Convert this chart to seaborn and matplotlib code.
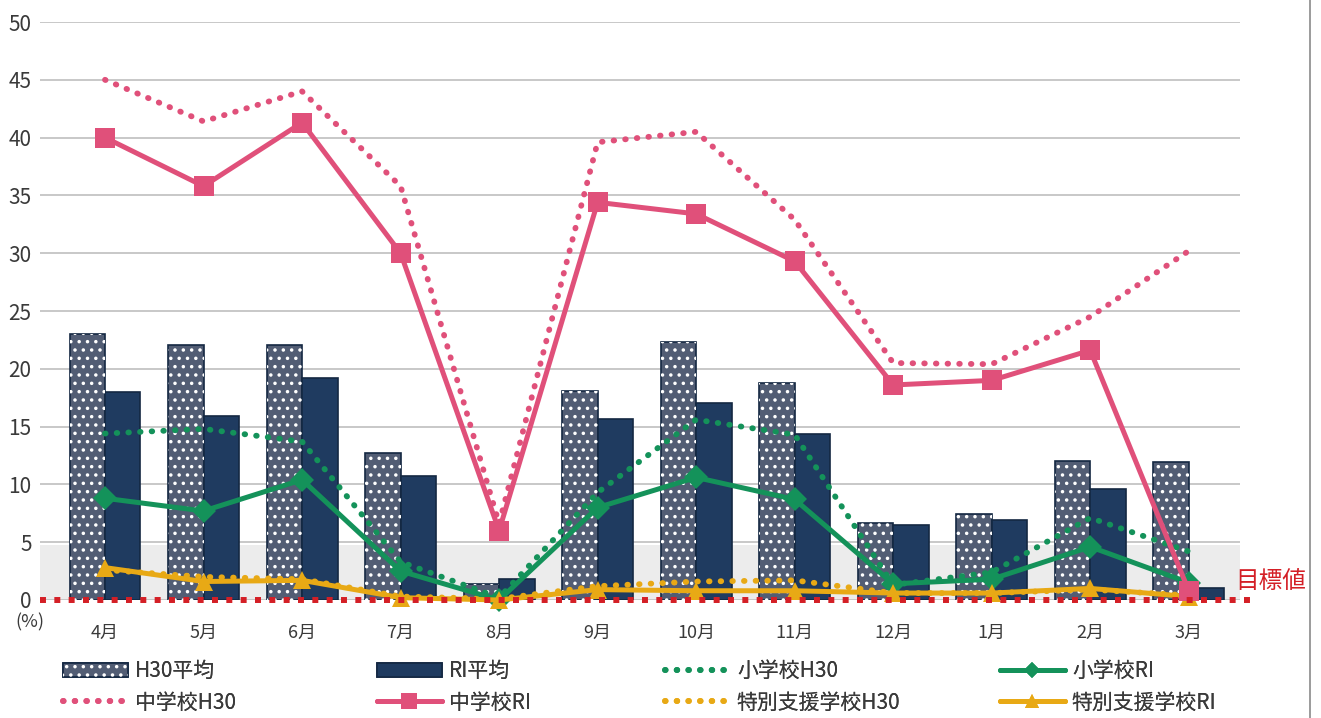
import numpy as np
import pandas as pd
import matplotlib
matplotlib.use("Agg")
import matplotlib.pyplot as plt
import seaborn as sns
from matplotlib.patches import Patch, Rectangle
from matplotlib.lines import Line2D

# ---- data (percent) ----
months = ["4月", "5月", "6月", "7月", "8月", "9月", "10月", "11月", "12月", "1月", "2月", "3月"]
h30_avg = [23.0, 22.1, 22.1, 12.7, 1.4, 18.1, 22.3, 18.8, 6.7, 7.4, 12.0, 11.9]
r1_avg = [18.0, 15.9, 19.2, 10.7, 1.8, 15.7, 17.0, 14.4, 6.5, 6.9, 9.6, 1.0]
elem_h30 = [14.4, 14.8, 13.7, 3.3, 0.2, 9.3, 15.6, 14.3, 1.3, 2.4, 7.1, 4.2]
elem_r1 = [8.8, 7.7, 10.4, 2.5, 0.0, 8.0, 10.6, 8.7, 1.4, 1.8, 4.6, 1.5]
jhs_h30 = [45.0, 41.4, 44.0, 35.8, 6.6, 39.6, 40.5, 32.9, 20.5, 20.4, 24.5, 30.2]
jhs_r1 = [40.0, 35.8, 41.3, 30.0, 6.0, 34.4, 33.4, 29.3, 18.6, 19.0, 21.6, 0.8]
sp_h30 = [2.6, 2.0, 1.8, 0.3, 0.1, 1.2, 1.6, 1.7, 0.6, 0.6, 0.9, 0.4]
sp_r1 = [2.8, 1.6, 1.7, 0.2, 0.0, 0.9, 0.8, 0.8, 0.6, 0.6, 1.0, 0.3]
target = 0.0

bar_labels = ["H30平均", "RI平均"]
line_labels = ["小学校H30", "小学校RI", "中学校H30", "中学校RI", "特別支援学校H30", "特別支援学校RI"]
y_ticks = [0, 5, 10, 15, 20, 25, 30, 35, 40, 45, 50]

# ---- style ----
sns.set_style("white")
plt.rcParams["font.family"] = ["Noto Sans CJK JP", "DejaVu Sans"]
plt.rcParams["hatch.linewidth"] = 1.3

NAVY = "#1f3b60"
NAVY_EDGE = "#142842"
H30_FACE = "#525d74"
PINK = "#e0507a"
GREEN = "#14925a"
ORANGE = "#e8a915"
RED = "#d41f26"
TXT = "#3a3a3a"

fig = plt.figure(figsize=(13.21, 7.18), dpi=100)
W, H = 1321, 718
ax = fig.add_axes([40 / W, 1 - 600 / H, 1200 / W, 578 / H])

# light band near the target level
ax.axhspan(0, 4.8, color="#ececec", zorder=0, lw=0)

# ---- bars ----
bar_df = pd.DataFrame({
    "month": months * 2,
    "value": h30_avg + r1_avg,
    "series": [bar_labels[0]] * 12 + [bar_labels[1]] * 12,
})
sns.barplot(data=bar_df, x="month", y="value", hue="series", order=months,
            hue_order=bar_labels, palette=[H30_FACE, NAVY], width=0.72,
            dodge=True, legend=False, ax=ax, zorder=2, saturation=1)

for p in ax.containers[0]:
    p.set_edgecolor(NAVY_EDGE)
    p.set_linewidth(1.2)
    ax.add_patch(Rectangle(p.get_xy(), p.get_width(), p.get_height(),
                           facecolor="none", edgecolor="white", hatch="..",
                           lw=0, zorder=2.1))
for p in ax.containers[1]:
    p.set_edgecolor(NAVY_EDGE)
    p.set_linewidth(1.2)

# ---- lines ----
x = np.arange(len(months))
dot_style = dict(linestyle=(0, (0.1, 1.9)), dash_capstyle="round", lw=4.2, clip_on=False)

sns.lineplot(x=x, y=elem_h30, color=GREEN, ax=ax, zorder=4, **dot_style)
sns.lineplot(x=x, y=sp_h30, color=ORANGE, ax=ax, zorder=4, **dot_style)
sns.lineplot(x=x, y=jhs_h30, color=PINK, ax=ax, zorder=4, **dot_style)

sns.lineplot(x=x, y=elem_r1, color=GREEN, lw=3.6, marker="D", markersize=12,
             markeredgewidth=0, ax=ax, zorder=5, clip_on=False)
sns.lineplot(x=x, y=sp_r1, color=ORANGE, lw=3.6, marker="^", markersize=13,
             markeredgewidth=0, ax=ax, zorder=5, clip_on=False)
sns.lineplot(x=x, y=jhs_r1, color=PINK, lw=3.6, marker="s", markersize=15,
             markeredgewidth=0, ax=ax, zorder=6, clip_on=False)

# ---- target line ----
ax.plot([-0.66, 11.64], [target, target], color=RED, lw=4.3,
        linestyle=(0, (1, 1.4)), zorder=7, clip_on=False)
ax.text(11.47, 1.6, "目標値", color=RED, fontsize=17, va="center", ha="left",
        clip_on=False, zorder=8)

# ---- axes ----
ax.set_xlim(-0.66, 11.52)
ax.set_ylim(0, 50)
ax.set_yticks(y_ticks)
ax.set_yticklabels([str(t) for t in y_ticks], fontsize=15, color=TXT)
ax.set_xticks(x)
ax.set_xticklabels(months, fontsize=13, color=TXT)
ax.tick_params(axis="x", length=0, pad=17)
ax.tick_params(axis="y", length=0, pad=6)
ax.set_xlabel("")
ax.set_ylabel("")
ax.grid(axis="y", color="#c4c4c4", lw=1.3, zorder=0)
ax.set_axisbelow(True)
for s in ax.spines.values():
    s.set_visible(False)

fig.text(30 / W, 1 - 622 / H, "(%)", fontsize=13, color=TXT, ha="center", va="center")

# right frame edge
fig.add_artist(Line2D([1310 / W, 1310 / W], [0, 1], color="#8a8a8a", lw=1.2))

# ---- legend (four columns) ----
h30_handle = (Patch(facecolor=H30_FACE, edgecolor=NAVY_EDGE, lw=1.2),
              Patch(facecolor="none", edgecolor="white", hatch="..", lw=0))
r1_handle = Patch(facecolor=NAVY, edgecolor=NAVY_EDGE, lw=1.2)

def dotted(c):
    return Line2D([], [], color=c, lw=4.2, linestyle=(0, (0.1, 1.9)), dash_capstyle="round")

def solid(c, m, ms):
    return Line2D([], [], color=c, lw=3.6, marker=m, markersize=ms, markeredgewidth=0)

columns = [
    (63, [h30_handle, dotted(PINK)], [bar_labels[0], line_labels[2]]),
    (377, [r1_handle, solid(PINK, "s", 11)], [bar_labels[1], line_labels[3]]),
    (665, [dotted(GREEN), dotted(ORANGE)], [line_labels[0], line_labels[4]]),
    (1000, [solid(GREEN, "D", 8), solid(ORANGE, "^", 10)], [line_labels[1], line_labels[5]]),
]
for xpix, handles, labels in columns:
    leg = fig.legend(handles, labels, loc="center left",
                     bbox_to_anchor=(xpix / W, 1 - 687 / H),
                     frameon=False, fontsize=15, handlelength=3.1,
                     handletextpad=0.35, labelspacing=0.45, borderpad=0,
                     borderaxespad=0, handleheight=0.7)
    for t in leg.get_texts():
        t.set_color(TXT)
    fig.add_artist(leg)

fig.savefig("out.png", dpi=100, facecolor="white")
